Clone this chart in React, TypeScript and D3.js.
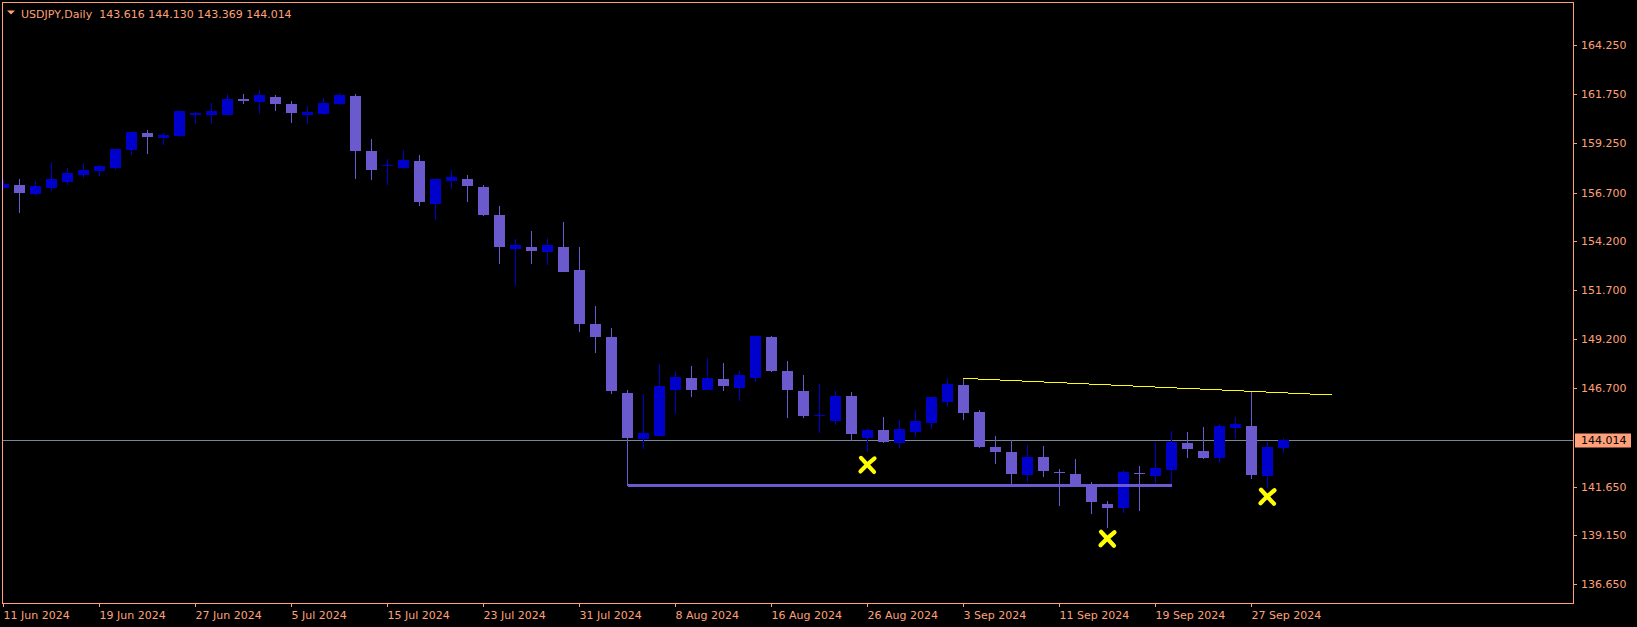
import React from "react";
import * as d3 from "d3";

// ---- data ----
const symbolTitle = "USDJPY,Daily";
const headerOHLC = ["143.616", "144.130", "143.369", "144.014"];

const tickLabelsX = [
  "11 Jun 2024", "19 Jun 2024", "27 Jun 2024", "5 Jul 2024", "15 Jul 2024",
  "23 Jul 2024", "31 Jul 2024", "8 Aug 2024", "16 Aug 2024", "26 Aug 2024",
  "3 Sep 2024", "11 Sep 2024", "19 Sep 2024", "27 Sep 2024",
];
const tickBarsX = [0, 6, 12, 18, 24, 30, 36, 42, 48, 54, 60, 66, 72, 78];

const tickLabelsY = [
  "164.250", "161.750", "159.250", "156.700", "154.200", "151.700",
  "149.200", "146.700", "141.650", "139.150", "136.650",
];

const opens = [
  156.95, 157.09, 156.64, 156.95, 157.26, 157.60, 157.80, 157.97, 158.89, 159.75,
  159.51, 159.61, 160.67, 160.67, 160.67, 161.49, 161.33, 161.59, 161.23, 160.67,
  160.72, 161.23, 161.64, 158.83, 158.07, 157.96, 158.31, 156.13, 157.29, 157.39,
  156.98, 155.55, 153.81, 153.91, 153.66, 153.91, 152.73, 149.97, 149.31, 146.44,
  144.09, 144.24, 146.59, 147.21, 146.59, 147.16, 146.70, 147.21, 149.31, 147.57,
  146.54, 145.26, 145.01, 146.29, 144.14, 144.55, 143.88, 144.44, 144.91, 145.99,
  146.85, 145.47, 143.68, 143.42, 142.24, 143.16, 142.40, 142.30, 141.73, 140.76,
  140.57, 142.35, 142.21, 142.51, 143.88, 143.47, 143.13, 144.66, 144.75, 142.21,
  143.616,
];
const highs = [
  157.39, 157.39, 157.27, 158.26, 157.96, 158.21, 158.11, 158.95, 159.80, 159.90,
  159.75, 160.87, 160.82, 161.28, 161.74, 161.74, 161.95, 161.69, 161.38, 161.13,
  161.54, 161.79, 161.74, 159.44, 158.42, 158.89, 158.62, 157.39, 157.85, 157.60,
  157.09, 156.01, 154.32, 154.73, 154.37, 155.19, 153.91, 150.89, 149.77, 146.59,
  146.39, 147.92, 147.57, 147.82, 148.23, 147.98, 147.57, 149.38, 149.36, 148.08,
  147.36, 146.90, 146.54, 146.49, 144.65, 145.21, 145.06, 145.57, 146.24, 147.21,
  147.21, 145.57, 144.24, 144.04, 143.78, 143.73, 142.55, 143.06, 141.89, 140.91,
  142.50, 142.70, 143.94, 144.50, 144.45, 144.70, 144.85, 145.21, 146.49, 143.94,
  144.130,
];
const lows = [
  156.83, 155.67, 156.54, 156.79, 157.10, 157.46, 157.55, 157.85, 158.64, 158.69,
  159.15, 159.56, 160.22, 160.22, 160.67, 161.23, 160.72, 160.87, 160.26, 160.21,
  160.67, 161.18, 157.39, 157.34, 157.09, 157.90, 156.03, 155.31, 156.88, 156.22,
  155.50, 153.04, 151.92, 153.04, 152.99, 152.63, 149.56, 148.49, 146.39, 141.68,
  143.57, 144.24, 145.37, 146.24, 146.59, 146.54, 146.03, 147.00, 147.52, 145.16,
  145.16, 144.39, 144.80, 143.98, 143.42, 143.88, 143.63, 144.19, 144.60, 145.74,
  145.07, 143.65, 142.82, 141.73, 141.90, 142.16, 140.67, 141.70, 140.26, 139.55,
  140.31, 140.40, 141.85, 141.64, 143.13, 143.08, 142.87, 144.09, 142.04, 141.59,
  143.369,
];
const closes = [
  157.14, 156.68, 157.03, 157.39, 157.70, 157.85, 158.06, 158.93, 159.80, 159.56,
  159.64, 160.87, 160.77, 160.87, 161.49, 161.40, 161.69, 161.23, 160.77, 160.82,
  161.28, 161.69, 158.83, 157.85, 158.10, 158.37, 156.23, 157.39, 157.49, 157.03,
  155.55, 153.91, 154.02, 153.71, 154.02, 152.63, 149.97, 149.31, 146.54, 144.14,
  144.39, 146.80, 147.26, 146.59, 147.21, 146.80, 147.36, 149.36, 147.57, 146.59,
  145.26, 145.29, 146.29, 144.34, 144.55, 143.93, 144.60, 145.01, 146.24, 146.90,
  145.43, 143.69, 143.44, 142.31, 143.16, 142.46, 142.38, 141.73, 140.88, 140.57,
  142.40, 142.27, 142.60, 143.94, 143.59, 143.13, 144.75, 144.85, 142.24, 143.68,
  144.014,
];

const lastPrice = 144.014;
const supportBars = [39, 73];
const supportPrice = 141.72;
const trendBars = [60, 83];
const trendPrices = [147.19, 146.34];
const markBars = [54, 69, 79];
const markPrices = [142.76, 138.98, 141.13];

// ---- layout / style ----
const W = 1637;
const H = 627;
const FRAME = { left: 2.5, top: 2.5, right: 1573.5, bottom: 603.5 };
const FG = "#FFA07A";
const BULL = "#0000CD";
const BEAR = "#6A5ACD";
const FONT = "'DejaVu Sans', Tahoma, sans-serif";

export default function App() {
  const x = d3.scaleLinear().domain([0, 80]).range([3.5, 1283.5]);
  const y = d3.scaleLinear().domain([136.65, 164.25]).range([584.3, 45]);

  const bars = d3.range(opens.length);
  const lastY = Math.round(y(lastPrice)) + 0.5;

  return (
    <svg
      width={W}
      height={H}
      style={{ position: "absolute", left: 0, top: 0, display: "block", background: "#000" }}
    >
      <rect x={0} y={0} width={W} height={H} fill="#000" />
      <defs>
        <clipPath id="plot">
          <rect x={FRAME.left} y={FRAME.top} width={FRAME.right - FRAME.left} height={FRAME.bottom - FRAME.top} />
        </clipPath>
      </defs>

      <g clipPath="url(#plot)">
        {/* current price line */}
        <line x1={FRAME.left} x2={FRAME.right} y1={lastY} y2={lastY} stroke="#778899" strokeWidth={1} shapeRendering="crispEdges" />

        {/* candles */}
        {bars.map((i) => {
          const o = opens[i], c = closes[i], h = highs[i], l = lows[i];
          const col = c >= o ? BULL : BEAR;
          const cx = x(i);
          const yTop = Math.round(y(Math.max(o, c)));
          const yBot = Math.round(y(Math.min(o, c)));
          const bh = Math.max(1, yBot - yTop);
          return (
            <g key={i} shapeRendering="crispEdges">
              <line x1={cx} x2={cx} y1={Math.round(y(h))} y2={Math.round(y(l))} stroke={col} strokeWidth={1} />
              <rect x={cx - 5.5} y={yTop} width={11} height={bh} fill={col} />
            </g>
          );
        })}

        {/* support line */}
        <line
          x1={x(supportBars[0])}
          x2={x(supportBars[1])}
          y1={y(supportPrice)}
          y2={y(supportPrice)}
          stroke={BEAR}
          strokeWidth={3}
          shapeRendering="crispEdges"
        />

        {/* trend line */}
        <line
          x1={x(trendBars[0])}
          x2={x(trendBars[1])}
          y1={y(trendPrices[0])}
          y2={y(trendPrices[1])}
          stroke="#FFFF00"
          strokeWidth={1}
          shapeRendering="crispEdges"
        />

        {/* X marks */}
        {markBars.map((b, k) => (
          <path
            key={k}
            transform={`translate(${x(b)},${y(markPrices[k])})`}
            d="M-6.5,-7 Q-1,-1 6.5,7 M7,-6.5 Q0,-1 -7,6.5"
            fill="none"
            stroke="#FFFF00"
            strokeWidth={4.2}
            strokeLinecap="round"
          />
        ))}
      </g>

      {/* frame */}
      <rect
        x={FRAME.left}
        y={FRAME.top}
        width={FRAME.right - FRAME.left}
        height={FRAME.bottom - FRAME.top}
        fill="none"
        stroke={FG}
        strokeWidth={1}
        shapeRendering="crispEdges"
      />

      {/* header */}
      <path d="M7,10.5 L15,10.5 L11,14.5 Z" fill={FG} />
      <text x={21} y={17.5} fill={FG} fontFamily={FONT} fontSize={11} style={{ whiteSpace: "pre" }}>
        {`${symbolTitle}  ${headerOHLC.join(" ")}`}
      </text>

      {/* y axis */}
      {tickLabelsY.map((t) => {
        const yy = Math.round(y(+t)) + 0.5;
        return (
          <g key={t}>
            <line x1={FRAME.right} x2={FRAME.right + 3} y1={yy} y2={yy} stroke={FG} shapeRendering="crispEdges" />
            <text x={1581} y={yy} dy="0.36em" fill={FG} fontFamily={FONT} fontSize={11}>
              {t}
            </text>
          </g>
        );
      })}

      {/* last price label */}
      <rect x={1575} y={lastY - 7} width={56} height={14} fill={FG} />
      <text x={1581} y={lastY} dy="0.36em" fill="#000" fontFamily={FONT} fontSize={11}>
        {lastPrice.toFixed(3)}
      </text>

      {/* x axis */}
      {tickBarsX.map((b, k) => {
        const xx = x(b);
        return (
          <g key={k}>
            <line x1={xx} x2={xx} y1={FRAME.bottom} y2={FRAME.bottom + 3} stroke={FG} shapeRendering="crispEdges" />
            <text x={xx} y={619} fill={FG} fontFamily={FONT} fontSize={11}>
              {tickLabelsX[k]}
            </text>
          </g>
        );
      })}
    </svg>
  );
}
